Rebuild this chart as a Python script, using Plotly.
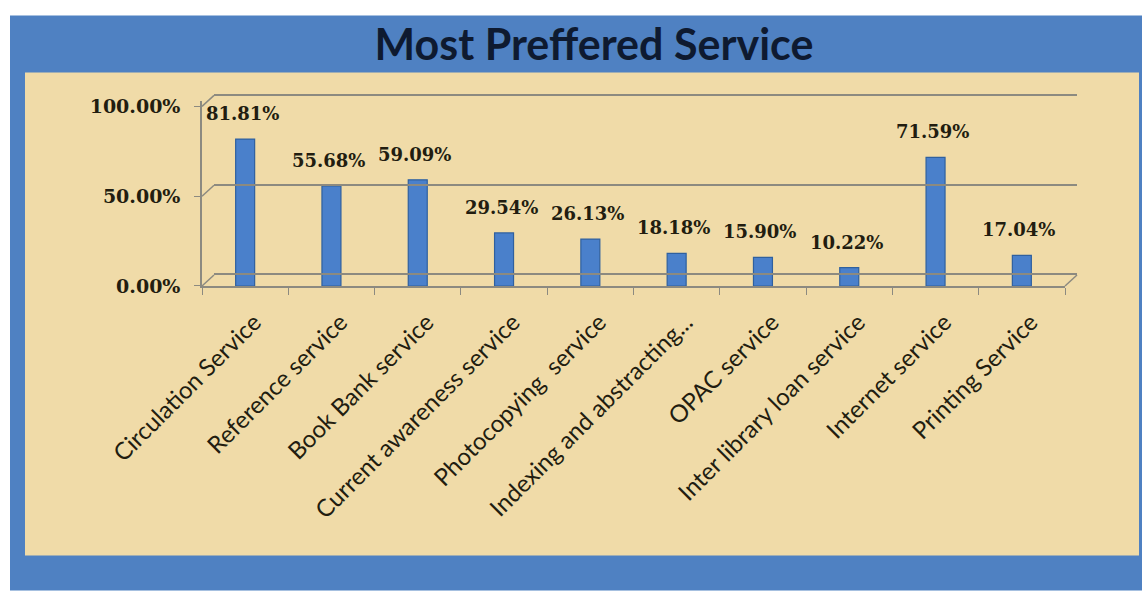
import plotly.graph_objects as go

categories = ["Circulation Service", "Reference service", "Book Bank service",
              "Current awareness service", "Photocopying  service",
              "Indexing and abstracting...", "OPAC service",
              "Inter library loan service", "Internet service", "Printing Service"]
values = [0.8181, 0.5568, 0.5909, 0.2954, 0.2613, 0.1818, 0.1590, 0.1022, 0.7159, 0.1704]
labels = ["81.81%", "55.68%", "59.09%", "29.54%", "26.13%", "18.18%", "15.90%", "10.22%", "71.59%", "17.04%"]
y_ticks = [0, 0.5, 1.0]
y_tick_text = ["0.00%", "50.00%", "100.00%"]

W, H = 1142, 591
YMAX = 1.03
UNIT = 180.0            # px per 100 %
ZERO_Y = 286            # px of front zero line
DEPTH_X, DEPTH_Y = 12, 11
FRONT_W = 863
L = 202
Hm = UNIT * YMAX
PH = Hm + DEPTH_Y
PW = FRONT_W + DEPTH_X
T = ZERO_Y - PH
B = H - ZERO_Y
R = W - L - PW
ax, by = DEPTH_X / PW, DEPTH_Y / PH

def px_x(p):
    return (p - L) / PW

def px_y(p):
    return (ZERO_Y - p) / PH

FRAME = "#4F81C2"
TAN = "#F0DBA8"
TXT = "#221D10"
LINE = "#8C8A80"

fig = go.Figure()
fig.add_trace(go.Bar(
    x=categories, y=values, width=0.22,
    marker=dict(color="#4A80CB", line=dict(color="#2F609F", width=1.2)),
    hoverinfo="skip", showlegend=False, xaxis="x", yaxis="y",
))
# back wall (3D depth) axes carrying the gridlines
fig.add_trace(go.Scatter(
    x=categories, y=values, mode="none", hoverinfo="skip", showlegend=False,
    xaxis="x2", yaxis="y2",
))

for c, v, t in zip(categories, values, labels):
    fig.add_annotation(x=c, y=v, text=t, showarrow=False, yanchor="bottom",
                       yshift=13, xshift=-3, xref="x", yref="y",
                       font=dict(family="DejaVu Serif", size=18, color=TXT, weight="bold"))

shapes = [
    dict(type="rect", xref="paper", yref="paper", layer="below",
         x0=px_x(10), x1=px_x(1142), y0=px_y(591), y1=px_y(15),
         fillcolor=FRAME, line=dict(width=0)),
    dict(type="rect", xref="paper", yref="paper", layer="below",
         x0=px_x(25), x1=px_x(1139), y0=px_y(556), y1=px_y(72),
         fillcolor=TAN, line=dict(width=0)),
]
# depth connectors (left wall at each tick, right end of floor)
for v in y_ticks:
    yf = v / YMAX * (1 - by)
    shapes.append(dict(type="line", xref="paper", yref="paper", layer="below",
                       x0=0, y0=yf, x1=ax, y1=yf + by,
                       line=dict(color=LINE, width=1.5)))
shapes.append(dict(type="line", xref="paper", yref="paper", layer="below",
                   x0=1 - ax, y0=0, x1=1, y1=by, line=dict(color=LINE, width=1.5)))
fig.update_layout(shapes=shapes)

fig.update_layout(
    width=W, height=H,
    margin=dict(l=L, r=R, t=T, b=B, autoexpand=False),
    paper_bgcolor="white", plot_bgcolor="rgba(0,0,0,0)",
    title=dict(text="<b>Most Preffered Service</b>", x=594 / W, xanchor="center",
               y=1 - 45 / H, yanchor="middle", yref="container",
               font=dict(family="Lato", size=43, color="#0E1A30")),
    xaxis=dict(
        domain=[0, 1 - ax], type="category", showgrid=False, showline=True,
        linecolor=LINE, linewidth=1.5,
        ticks="outside", tickson="boundaries", ticklen=7, tickcolor=LINE,
        tickangle=-45, tickfont=dict(family="Lato", size=24, color=TXT),
        ticklabelshift=9, ticklabelstandoff=11,
    ),
    yaxis=dict(
        domain=[0, 1 - by], range=[0, YMAX], tickvals=y_ticks, ticktext=y_tick_text,
        showgrid=False, showline=True, linecolor=LINE, linewidth=1.5,
        ticks="outside", ticklen=6, tickcolor=LINE,
        tickfont=dict(family="DejaVu Serif", size=19, color=TXT, weight="bold"),
        ticklabelstandoff=10, zeroline=False,
    ),
    xaxis2=dict(
        domain=[ax, 1], type="category", anchor="y2", showgrid=False,
        showline=False, showticklabels=False, ticks="",
    ),
    yaxis2=dict(
        domain=[by, 1], range=[-0.004, YMAX], anchor="x2", tickvals=y_ticks,
        showgrid=True, gridcolor=LINE, gridwidth=1.5, showticklabels=False,
        ticks="", showline=False,
        zeroline=True, zerolinecolor=LINE, zerolinewidth=1.5,
    ),
)

fig.write_html("out.html")
